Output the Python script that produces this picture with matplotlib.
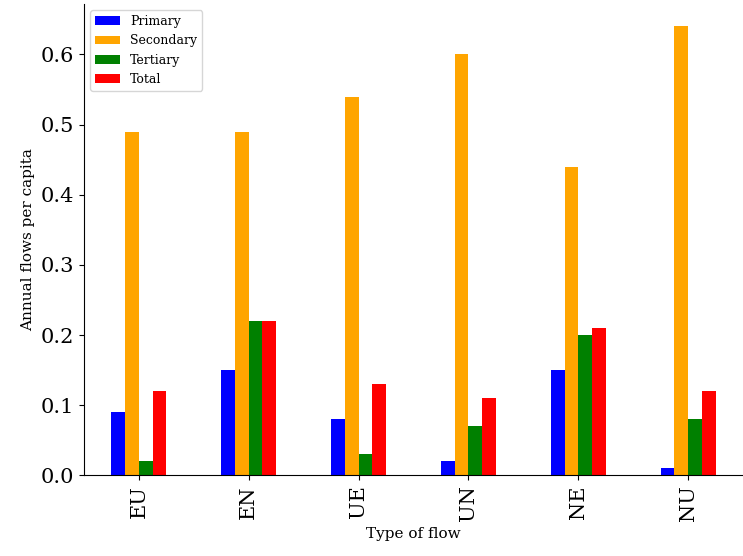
import numpy as np
import matplotlib
matplotlib.use('Agg')
import matplotlib.pyplot as plt

flows = ['EU', 'EN', 'UE', 'UN', 'NE', 'NU']
primary = [0.09, 0.15, 0.08, 0.02, 0.15, 0.01]
secondary = [0.49, 0.49, 0.54, 0.60, 0.44, 0.64]
tertiary = [0.02, 0.22, 0.03, 0.07, 0.20, 0.08]
total = [0.12, 0.22, 0.13, 0.11, 0.21, 0.12]

series = [('Primary', primary, 'blue'), ('Secondary', secondary, 'orange'),
          ('Tertiary', tertiary, 'green'), ('Total', total, 'red')]

plt.rcParams['font.family'] = 'DejaVu Serif'
fig = plt.figure(figsize=(7.43, 5.56), dpi=100)
ax = fig.add_axes([0.113, 0.145, 0.887, 0.848])

x = np.arange(len(flows))
w = 0.125
for i, (name, vals, col) in enumerate(series):
    ax.bar(x + (i - 1.5) * w, vals, w, color=col, label=name)

ax.set_xlim(-0.5, len(flows) - 0.5)
ax.set_ylim(0, 0.672)
ax.set_xticks(x)
ax.set_xticklabels(flows, rotation=90, fontsize=15)
ax.tick_params(axis='y', labelsize=15)
ax.set_xlabel('Type of flow', fontsize=11)
ax.set_ylabel('Annual flows per capita', fontsize=11)
ax.spines['top'].set_visible(False)
ax.spines['right'].set_visible(False)
ax.legend(loc='upper left', fontsize=9)

fig.savefig('out.png', dpi=100)
